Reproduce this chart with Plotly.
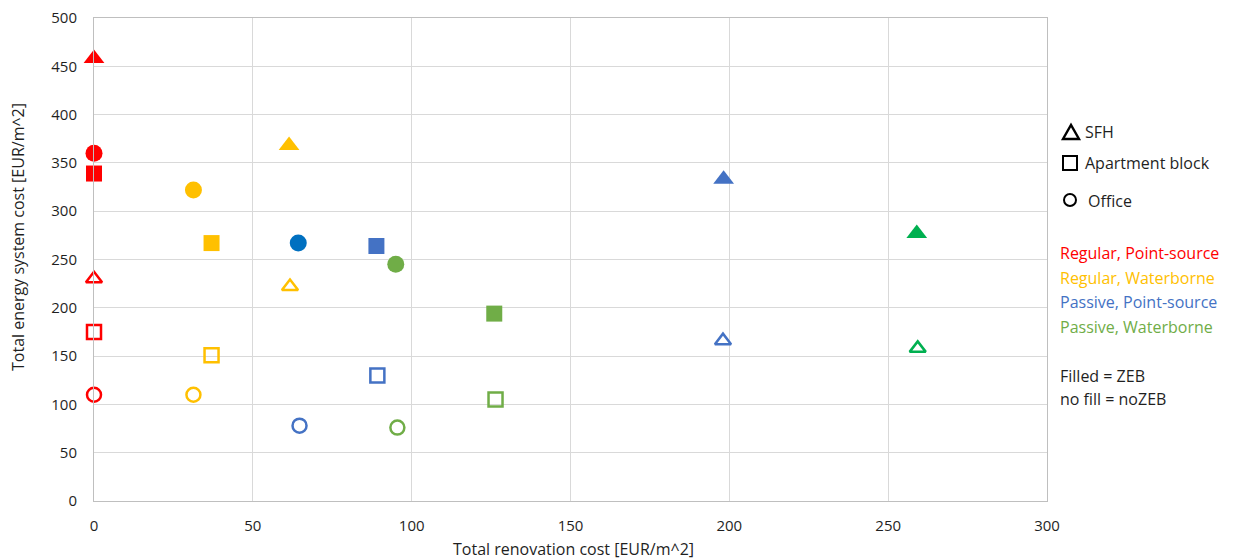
import plotly.graph_objects as go

# ---- data ----
groups = ["Regular, Point-source", "Regular, Waterborne", "Passive, Point-source", "Passive, Waterborne"]
buildings = ["SFH", "Apartment block", "Office"]

# ZEB (filled) points, order: SFH, Apartment block, Office
zeb_x = {
    "Regular, Point-source": [0, 0, 0],
    "Regular, Waterborne": [61.4, 37, 31.3],
    "Passive, Point-source": [198.2, 88.9, 64.3],
    "Passive, Waterborne": [259, 126, 95],
}
zeb_y = {
    "Regular, Point-source": [458, 339, 360],
    "Regular, Waterborne": [368, 267, 322],
    "Passive, Point-source": [333, 264, 267],
    "Passive, Waterborne": [277, 194, 245],
}
# noZEB (no fill) points
nozeb_x = {
    "Regular, Point-source": [0, 0, 0],
    "Regular, Waterborne": [61.7, 37, 31.3],
    "Passive, Point-source": [198, 89.2, 64.7],
    "Passive, Waterborne": [259.3, 126.4, 95.5],
}
nozeb_y = {
    "Regular, Point-source": [230, 175, 110],
    "Regular, Waterborne": [222, 151, 110],
    "Passive, Point-source": [166, 130, 78],
    "Passive, Waterborne": [158, 105, 76],
}
x_ticks = [0, 50, 100, 150, 200, 250, 300]
y_ticks = [0, 50, 100, 150, 200, 250, 300, 350, 400, 450, 500]
x_title = "Total renovation cost [EUR/m^2]"
y_title = "Total energy system cost [EUR/m^2]"
fill_notes = ["Filled = ZEB", "no fill = noZEB"]

# ---- styles ----
colors_fill = {
    "Regular, Point-source": ["#FF0000", "#FF0000", "#FF0000"],
    "Regular, Waterborne": ["#FFC000", "#FFC000", "#FFC000"],
    "Passive, Point-source": ["#4472C4", "#4472C4", "#0070C0"],
    "Passive, Waterborne": ["#00B050", "#70AD47", "#70AD47"],
}
colors_open = {
    "Regular, Point-source": ["#FF0000", "#FF0000", "#FF0000"],
    "Regular, Waterborne": ["#FFC000", "#FFC000", "#FFC000"],
    "Passive, Point-source": ["#4472C4", "#4472C4", "#4472C4"],
    "Passive, Waterborne": ["#00B050", "#70AD47", "#70AD47"],
}
legend_colors = ["#FF0000", "#FFC000", "#4472C4", "#70AD47"]
sym_fill = {"SFH": "triangle-up", "Apartment block": "square", "Office": "circle"}
size_fill = {"SFH": 18, "Apartment block": 16, "Office": 17}
size_open = {"SFH": 14, "Apartment block": 14, "Office": 14}

FONT = "Open Sans"
TXT = "#1f1f1f"

fig = go.Figure()
for g in groups:
    for i, b in enumerate(buildings):
        fig.add_trace(go.Scatter(
            x=[zeb_x[g][i]], y=[zeb_y[g][i]], mode="markers",
            marker=dict(symbol=sym_fill[b], size=size_fill[b], color=colors_fill[g][i], line=dict(width=0)),
            cliponaxis=False, showlegend=False, hoverinfo="x+y"))
        fig.add_trace(go.Scatter(
            x=[nozeb_x[g][i]], y=[nozeb_y[g][i]], mode="markers",
            marker=dict(symbol=sym_fill[b] + "-open", size=size_open[b], color=colors_open[g][i],
                        line=dict(width=2.5, color=colors_open[g][i])),
            cliponaxis=False, showlegend=False, hoverinfo="x+y"))

OFF = 8  # page offset of the figure (body margin)
W, H = 1242, 560
L, T = 94 - OFF, 18 - OFF
R = W - (1047 - OFF)
B = H - (501 - OFF)
pw, ph = W - L - R, H - T - B

def px(xp):
    return (xp - 94) / pw

def py(yp):
    return (501 - yp) / ph

ann = []
def add(text, xp, yp, color=TXT, size=16, **kw):
    d = dict(text=text, x=px(xp), y=py(yp), xref="paper", yref="paper",
             xanchor="left", yanchor="middle", showarrow=False,
             font=dict(family=FONT, size=size, color=color))
    d.update(kw)
    ann.append(d)

# legend texts
add(buildings[0], 1083, 132)
add(buildings[1], 1083, 163)
add(buildings[2], 1086, 201)
for k, g in enumerate(groups):
    add(g, 1058, 253 + k * 24.7, legend_colors[k])
add(fill_notes[0], 1058, 376)
add(fill_notes[1], 1058, 399)
# axis titles
add(y_title, 18, 237, TXT, 16, xanchor="center", textangle=-90)
add(x_title, 573, 549, TXT, 16, xanchor="center")

# legend symbols (shapes in paper coordinates)
shapes = []
lw = dict(color="#000000", width=2.4)
tx0, tx1, ty0, ty1 = px(1063), px(1079), py(139), py(125)
shapes.append(dict(type="path", xref="paper", yref="paper",
                   path=f"M {tx0} {ty0} L {tx1} {ty0} L {(tx0 + tx1) / 2} {ty1} Z", line=lw))
shapes.append(dict(type="rect", xref="paper", yref="paper",
                   x0=px(1063), x1=px(1077), y0=py(170), y1=py(156), line=dict(color="#000000", width=2)))
shapes.append(dict(type="circle", xref="paper", yref="paper",
                   x0=px(1064), x1=px(1076), y0=py(206), y1=py(194), line=dict(color="#000000", width=2)))

fig.update_layout(
    width=W, height=H,
    margin=dict(l=L, r=R, t=T, b=B, autoexpand=False),
    paper_bgcolor="white", plot_bgcolor="white",
    font=dict(family=FONT, size=15, color=TXT),
    annotations=ann, shapes=shapes,
    xaxis=dict(range=[0, 300], tickvals=x_ticks, showgrid=True, gridcolor="#D9D9D9", gridwidth=1,
               zeroline=False, showline=True, linecolor="#BFBFBF", linewidth=1, mirror=True,
               ticks="", ticklabelstandoff=11, tickfont=dict(size=15), automargin=False,
               ticklabeloverflow="allow"),
    yaxis=dict(range=[0, 500], tickvals=y_ticks, showgrid=True, gridcolor="#D9D9D9", gridwidth=1,
               zeroline=False, showline=True, linecolor="#BFBFBF", linewidth=1, mirror=True,
               ticks="", ticklabelstandoff=13, tickfont=dict(size=15), automargin=False,
               ticklabeloverflow="allow"),
)

fig.write_html("out.html")
